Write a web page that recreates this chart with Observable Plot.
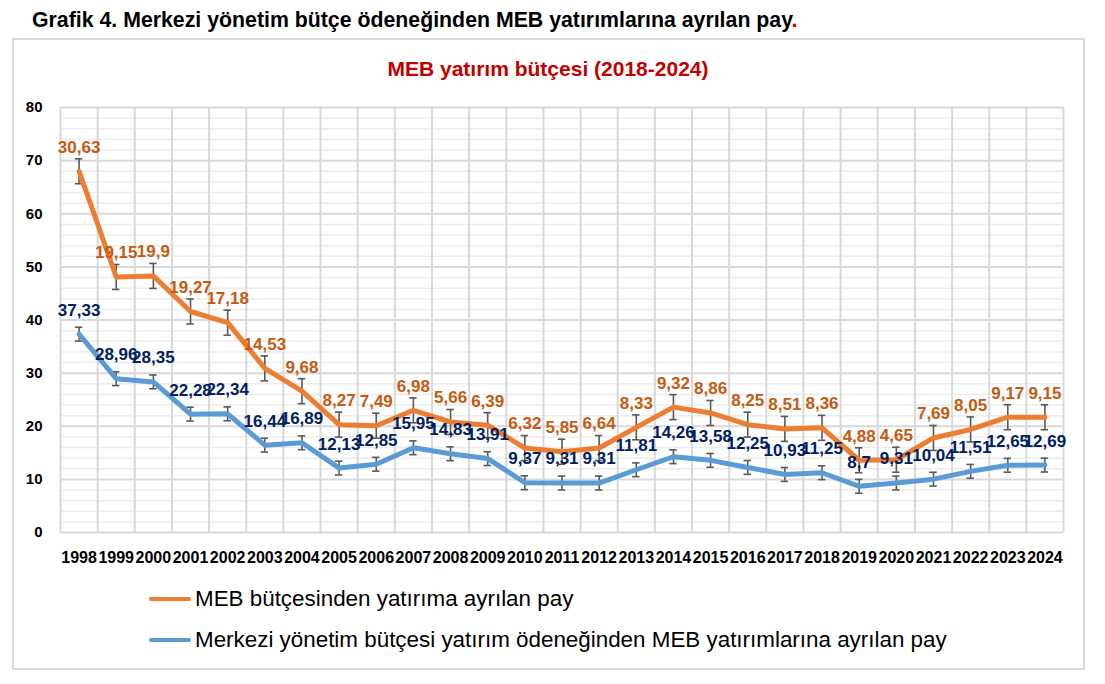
<!DOCTYPE html>
<html>
<head>
<meta charset="utf-8">
<script src="https://cdn.jsdelivr.net/npm/d3@7"></script>
<script src="https://cdn.jsdelivr.net/npm/@observablehq/plot@0.6"></script>
<style>
  body { margin: 0; background: #fff; font-family: "Liberation Sans", Arial, sans-serif; }
  #page { position: relative; width: 1105px; height: 684px; overflow: hidden; }
  #title { position: absolute; left: 32px; top: 8px; font-weight: bold; font-size: 21.3px; color: #000; white-space: nowrap; }
  #frame { position: absolute; left: 12px; top: 38px; width: 1073px; height: 632px; border: 2px solid #d9d9d9; box-sizing: border-box; }
  #ctitle { position: absolute; left: 0; width: 1096px; top: 57px; text-align: center; font-weight: bold; font-size: 21px; color: #C00000; }
  #chart { position: absolute; left: 0; top: 90px; }
  .leg { position: absolute; left: 149px; height: 28px; display: flex; align-items: center; font-size: 22.4px; color: #000; white-space: nowrap; }
  .leg .sw { width: 42px; height: 4px; margin-right: 4px; border-radius: 2px; }
</style>
</head>
<body>
<div id="page">
  <div id="title">Grafik 4. Merkezi yönetim bütçe ödeneğinden MEB yatırımlarına ayrılan pay<span style="color:#C00000">.</span></div>
  <div id="frame"></div>
  <div id="ctitle">MEB yatırım bütçesi (2018-2024)</div>
  <div id="chart"></div>
  <div class="leg" style="top:585px"><div class="sw" style="background:#ED7D31"></div><span id="leg1">MEB bütçesinden yatırıma ayrılan pay</span></div>
  <div class="leg" style="top:626px"><div class="sw" style="background:#5B9BD5"></div><span id="leg2">Merkezi yönetim bütçesi yatırım ödeneğinden MEB yatırımlarına ayrılan pay</span></div>
</div>
<script>
const years = [1998, 1999, 2000, 2001, 2002, 2003, 2004, 2005, 2006, 2007, 2008, 2009, 2010, 2011, 2012, 2013, 2014, 2015, 2016, 2017, 2018, 2019, 2020, 2021, 2022, 2023, 2024];

// Orange series: plotted positions (as drawn) and their data labels
const mebLine = [68.0, 48.1, 48.3, 41.6, 39.5, 30.9, 26.6, 20.3, 20.1, 23.0, 20.8, 20.2, 15.9, 15.2, 15.9, 19.8, 23.6, 22.5, 20.3, 19.5, 19.7, 13.6, 13.7, 17.8, 19.4, 21.7, 21.7];
const mebLabels = [30.63, 19.15, 19.9, 19.27, 17.18, 14.53, 9.68, 8.27, 7.49, 6.98, 5.66, 6.39, 6.32, 5.85, 6.64, 8.33, 9.32, 8.86, 8.25, 8.51, 8.36, 4.88, 4.65, 7.69, 8.05, 9.17, 9.15];

// Blue series
const merkezi = [37.33, 28.96, 28.35, 22.28, 22.34, 16.44, 16.89, 12.13, 12.85, 15.95, 14.83, 13.91, 9.37, 9.31, 9.31, 11.81, 14.26, 13.58, 12.25, 10.93, 11.25, 8.7, 9.31, 10.04, 11.51, 12.65, 12.69];

const mebErr = 2.35;
const merkeziErr = 1.3;

const yTicks = [0, 10, 20, 30, 40, 50, 60, 70, 80];
const yMinor = d3.range(0, 81, 2).filter(v => v % 10 !== 0);

const fmt = v => String(v).replace(".", ",");

const orange = years.map((year, i) => ({year, v: mebLine[i], label: fmt(mebLabels[i])}));
const blue = years.map((year, i) => ({year, v: merkezi[i], label: fmt(merkezi[i])}));
const bounds = years.map(y => y - 0.5).concat([years[years.length - 1] + 0.5]);

const capHalf = 0.1;

const chart = Plot.plot({
  width: 1105,
  height: 490,
  marginLeft: 60,
  marginRight: 42,
  marginTop: 17,
  marginBottom: 48,
  style: {fontFamily: "'Liberation Sans', Arial, sans-serif", background: "transparent", overflow: "visible"},
  x: {type: "linear", domain: [years[0] - 0.5, years[years.length - 1] + 0.5]},
  y: {domain: [0, 80]},
  marks: [
    Plot.ruleY(yMinor, {stroke: "#ececec", strokeWidth: 1.5}),
    Plot.ruleY(yTicks, {stroke: "#d9d9d9", strokeWidth: 2}),
    Plot.ruleX(bounds, {y1: 0, y2: 80, stroke: "#d9d9d9", strokeWidth: 2}),
    Plot.axisY({ticks: yTicks, tickSize: 0, tickPadding: 18, fontSize: 15, fontWeight: "bold", fill: "#000", label: null}),
    Plot.axisX({ticks: years, tickFormat: d => String(d), tickSize: 0, tickPadding: 19, fontSize: 16, fontWeight: "bold", fill: "#000", label: null}),
    // error bars
    Plot.ruleX(orange, {x: "year", y1: d => d.v - mebErr, y2: d => d.v + mebErr, stroke: "#595959", strokeWidth: 1.6}),
    Plot.ruleY(orange, {y: d => d.v - mebErr, x1: d => d.year - capHalf, x2: d => d.year + capHalf, stroke: "#595959", strokeWidth: 1.6}),
    Plot.ruleY(orange, {y: d => d.v + mebErr, x1: d => d.year - capHalf, x2: d => d.year + capHalf, stroke: "#595959", strokeWidth: 1.6}),
    Plot.ruleX(blue, {x: "year", y1: d => d.v - merkeziErr, y2: d => d.v + merkeziErr, stroke: "#595959", strokeWidth: 1.6}),
    Plot.ruleY(blue, {y: d => d.v - merkeziErr, x1: d => d.year - capHalf, x2: d => d.year + capHalf, stroke: "#595959", strokeWidth: 1.6}),
    Plot.ruleY(blue, {y: d => d.v + merkeziErr, x1: d => d.year - capHalf, x2: d => d.year + capHalf, stroke: "#595959", strokeWidth: 1.6}),
    // lines
    Plot.line(orange, {x: "year", y: "v", stroke: "#ED7D31", strokeWidth: 5, strokeLinejoin: "round", strokeLinecap: "round"}),
    Plot.line(blue, {x: "year", y: "v", stroke: "#5B9BD5", strokeWidth: 5, strokeLinejoin: "round", strokeLinecap: "round"}),
    // labels
    Plot.text(orange, {x: "year", y: "v", text: "label", dy: -24, fill: "#C55A11", fontSize: 17, fontWeight: "bold"}),
    Plot.text(blue, {x: "year", y: "v", text: "label", dy: -24, fill: "#002060", fontSize: 17, fontWeight: "bold"})
  ]
});
document.getElementById("chart").appendChild(chart);
</script>
</body>
</html>
